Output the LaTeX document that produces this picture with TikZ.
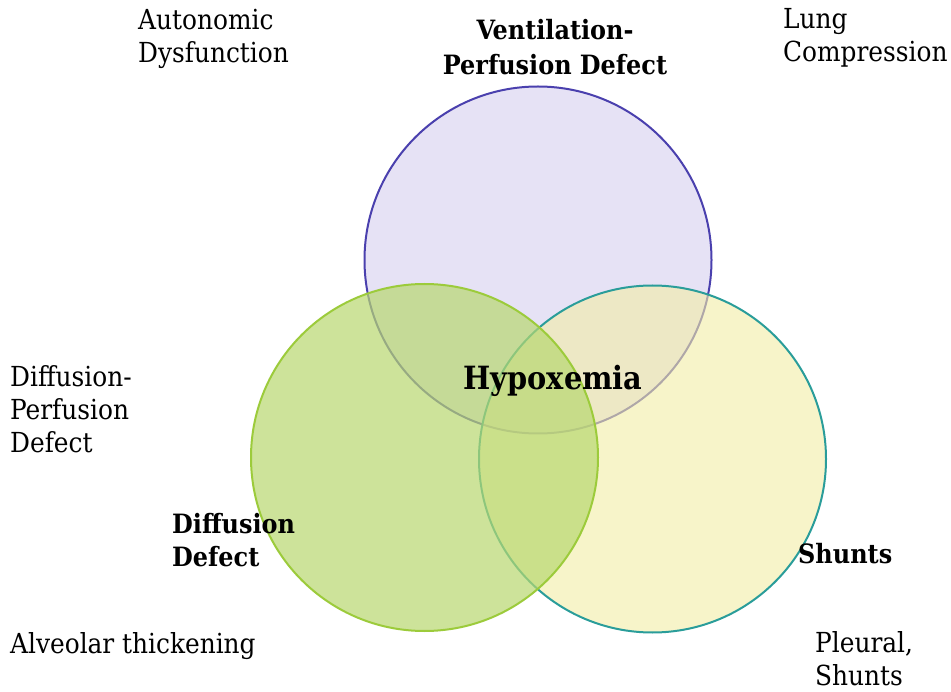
\documentclass[tikz,border=0pt]{standalone}
\usepackage{fontspec}
\setmainfont{DejaVu Serif Condensed}
\definecolor{vpfill}{HTML}{E6E2F5}
\definecolor{vpline}{HTML}{4A40AE}
\definecolor{dffill}{HTML}{B8D870}
\definecolor{dfline}{HTML}{9CCB3B}
\definecolor{shfill}{HTML}{F3EDA5}
\definecolor{shline}{HTML}{2A9D9A}
\begin{document}
\begin{tikzpicture}[x=1pt,y=-1pt,
  venn/.style={circle, inner sep=0pt, minimum size=347pt, line width=2pt},
  lab/.style={inner sep=0pt, anchor=base west, font=\fontsize{27.6}{30}\selectfont, text=black},
  blab/.style={inner sep=0pt, font=\fontsize{26.6}{30}\selectfont\bfseries, text=black}]
\useasboundingbox (0,0) rectangle (951,692);
\fill[white] (0,0) rectangle (951,692);
\node[venn, draw=vpline, fill=vpfill] (vp) at (538,260) {};
\node[venn, draw=shline, fill=shfill, fill opacity=0.6] (sh) at (652.5,459) {};
\node[venn, draw=dfline, fill=dffill, fill opacity=0.7] (df) at (424.5,457.5) {};
% labels
\node[lab] (auto1) at (138,30) {Autonomic};
\node[lab] (auto2) at (138,63) {Dysfunction};
\node[lab] (lung1) at (783,29) {Lung};
\node[lab] (lung2) at (783,62) {Compression};
\node[blab, anchor=base] (vpl1) at (555,40) {Ventilation-};
\node[blab, anchor=base] (vpl2) at (555,75) {Perfusion Defect};
\node[lab] (dpd1) at (10,387) {Diffusion-};
\node[lab] (dpd2) at (10,420) {Perfusion};
\node[lab] (dpd3) at (10,453) {Defect};
\node[blab, anchor=base, font=\fontsize{32}{36}\selectfont\bfseries] (hyp) at (553,390) {Hypoxemia};
\node[blab, anchor=base west] (dd1) at (172,533) {Diffusion};
\node[blab, anchor=base west] (dd2) at (172,566) {Defect};
\node[blab, anchor=base west] (shl) at (798,563) {Shunts};
\node[lab] (alv) at (10,653) {Alveolar thickening};
\node[lab] (pl1) at (815,652) {Pleural,};
\node[lab] (pl2) at (815,685) {Shunts};
\end{tikzpicture}
\end{document}
